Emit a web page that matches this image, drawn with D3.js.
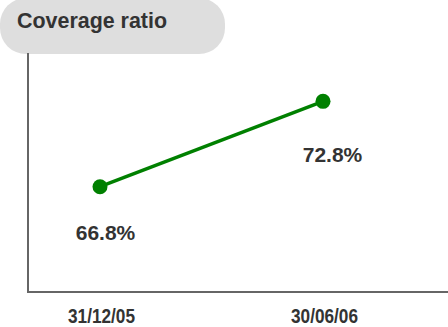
<!DOCTYPE html>
<html>
<head>
<meta charset="utf-8">
<script src="https://cdn.jsdelivr.net/npm/d3@7"></script>
<style>
  html, body { margin: 0; padding: 0; background: #ffffff; }
  svg { display: block; }
</style>
</head>
<body>
<svg id="chart" width="448" height="327"></svg>
<script>
// Coverage ratio at two reporting dates
const title = "Coverage ratio";
const dates = ["31/12/05", "30/06/06"];
const ratios = [66.8, 72.8];
const valueLabels = ["66.8%", "72.8%"];

// Layout
const W = 448, H = 327;
const axisX = 28, axisTop = 53, axisBottom = 292;
const labelOffsets = [[5.5, 53.5], [9.5, 60.5]]; // [dx, dy] of each value label from its point
const green = "#008000";
const textColor = "#333333";
const fontFamily = "'Liberation Sans', Arial, Helvetica, sans-serif";

const svg = d3.select("#chart");

const x = d3.scalePoint().domain(dates).range([100, 323]);
const y = d3.scaleLinear().domain([59.4, 76.2]).range([axisBottom, axisTop]);

// Title pill
svg.append("rect")
  .attr("x", 0).attr("y", -2)
  .attr("width", 225).attr("height", 56)
  .attr("rx", 26).attr("ry", 26)
  .attr("fill", "#dedede");

svg.append("text")
  .attr("x", 17).attr("y", 28)
  .attr("font-family", fontFamily)
  .attr("font-weight", "bold")
  .attr("font-size", 21.5)
  .attr("textLength", 150)
  .attr("lengthAdjust", "spacingAndGlyphs")
  .attr("fill", textColor)
  .text(title);

// Axes
svg.append("line")
  .attr("x1", axisX).attr("x2", axisX)
  .attr("y1", axisTop).attr("y2", axisBottom + 1)
  .attr("stroke", "#666666").attr("stroke-width", 2);

svg.append("line")
  .attr("x1", axisX - 1).attr("x2", W)
  .attr("y1", axisBottom).attr("y2", axisBottom)
  .attr("stroke", "#666666").attr("stroke-width", 2);

// Category labels
svg.selectAll("text.cat")
  .data(dates)
  .join("text")
  .attr("class", "cat")
  .attr("x", d => x(d) + 1.5)
  .attr("y", 323)
  .attr("text-anchor", "middle")
  .attr("font-family", fontFamily)
  .attr("font-weight", "bold")
  .attr("font-size", 19.5)
  .attr("textLength", 67)
  .attr("lengthAdjust", "spacingAndGlyphs")
  .attr("fill", textColor)
  .text(d => d);

// Series
const pts = dates.map((d, i) => ({ date: d, value: ratios[i], label: valueLabels[i], off: labelOffsets[i] }));

svg.append("path")
  .datum(pts)
  .attr("fill", "none")
  .attr("stroke", green)
  .attr("stroke-width", 3.5)
  .attr("d", d3.line().x(d => x(d.date)).y(d => y(d.value)));

svg.selectAll("circle.pt")
  .data(pts)
  .join("circle")
  .attr("class", "pt")
  .attr("cx", d => x(d.date))
  .attr("cy", d => y(d.value))
  .attr("r", 7.5)
  .attr("fill", green);

svg.selectAll("text.val")
  .data(pts)
  .join("text")
  .attr("class", "val")
  .attr("x", d => x(d.date) + d.off[0])
  .attr("y", d => y(d.value) + d.off[1])
  .attr("text-anchor", "middle")
  .attr("font-family", fontFamily)
  .attr("font-weight", "bold")
  .attr("font-size", 21)
  .attr("fill", textColor)
  .text(d => d.label);
</script>
</body>
</html>
